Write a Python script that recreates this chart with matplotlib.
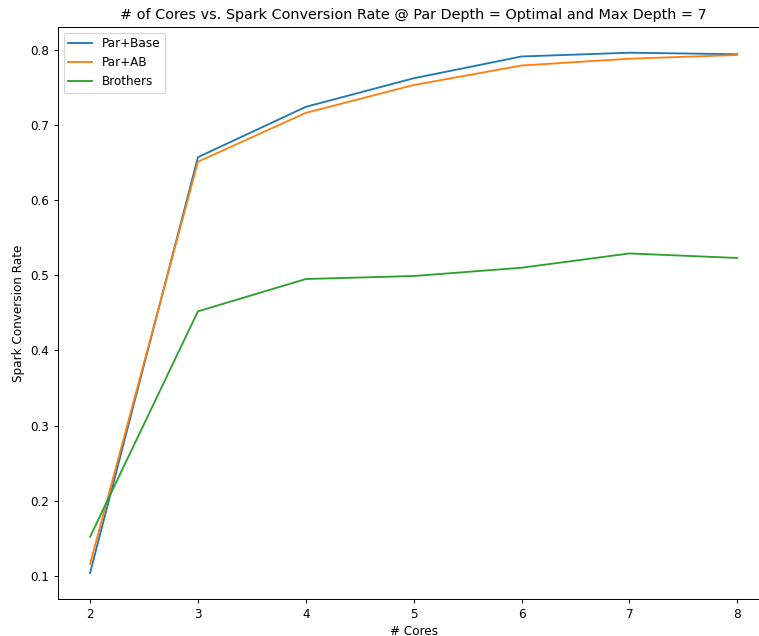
import matplotlib
matplotlib.use('Agg')
from matplotlib import pyplot as plt

cores = [2, 3, 4, 5, 6, 7, 8]
par_base = [0.104, 0.657, 0.724, 0.762, 0.791, 0.796, 0.794]
par_ab = [0.116, 0.651, 0.716, 0.753, 0.779, 0.788, 0.793]
brothers = [0.152, 0.452, 0.495, 0.499, 0.510, 0.529, 0.523]

# reference looks like a scaled-down render, so use a lower dpi
dpi = 88
plt.rcParams['font.size'] = 9.8
fig = plt.figure(figsize=(759 / dpi, 636 / dpi), dpi=dpi)
ax = fig.add_subplot(111)
ax.plot(cores, par_base, label='Par+Base')
ax.plot(cores, par_ab, label='Par+AB')
ax.plot(cores, brothers, label='Brothers')

ax.set_title('# of Cores vs. Spark Conversion Rate @ Par Depth = Optimal and Max Depth = 7')
ax.set_xlabel('# Cores')
ax.set_ylabel('Spark Conversion Rate')
ax.legend(loc='upper left')

# the right edge of the axes is cropped off in the reference
fig.subplots_adjust(left=57.7 / 759, right=769.6 / 759,
                    top=1 - 26.7 / 636, bottom=1 - 599 / 636)
fig.savefig('out.png', dpi=dpi)
